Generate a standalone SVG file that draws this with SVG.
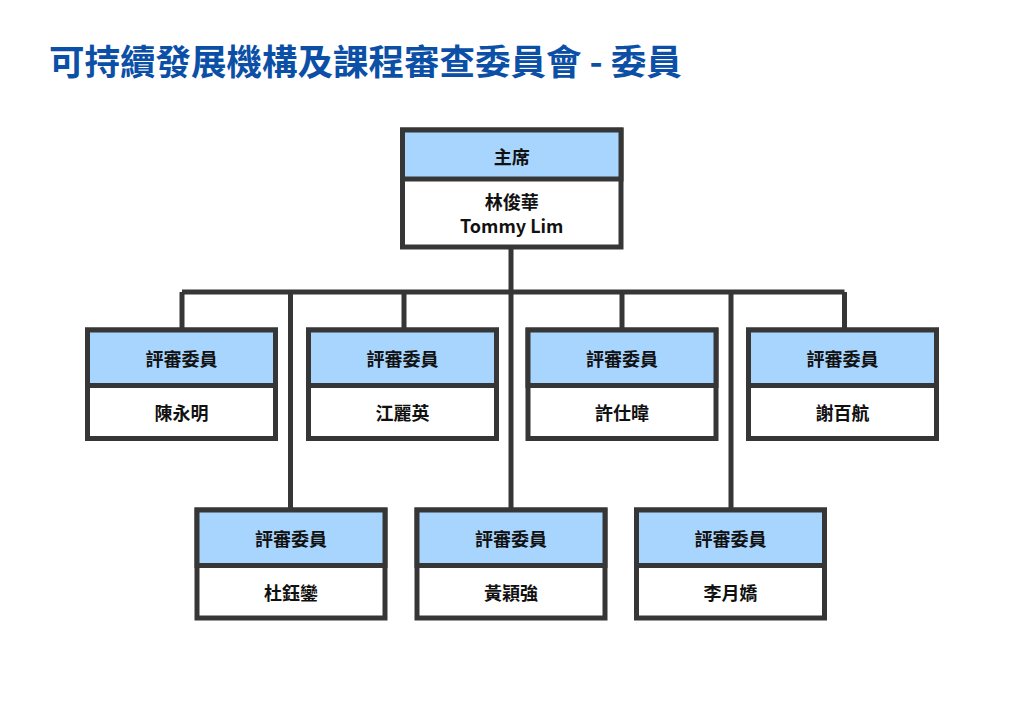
<svg xmlns="http://www.w3.org/2000/svg" width="1024" height="724" viewBox="0 0 1024 724">
<style>
.box{fill:#ffffff;stroke:#363636;stroke-width:5}
.hdr{fill:#a8d5fd;stroke:#363636;stroke-width:5}
.ln{fill:none;stroke:#363636;stroke-width:5}
text{font-family:"Noto Sans CJK TC","Noto Sans",sans-serif;font-weight:bold;fill:#111111;text-anchor:middle;dominant-baseline:central;font-size:18px}
.title{font-size:35.5px;fill:#0b50a6;text-anchor:start;dominant-baseline:alphabetic}
</style>
<rect width="1024" height="724" fill="#ffffff"/>
<text class="title" x="49" y="75">可持續發展機構及課程審查委員會 - 委員</text>
<g id="connectors">
<path class="ln" d="M182 292H844.5M511 247V510M182 292V330M404 292V330M622 292V330M844.5 292V330M290.5 292V510M731 292V510"/>
</g>
<g id="chair">
<rect class="box" x="402.5" y="130" width="218.5" height="117"/>
<rect class="hdr" x="402.5" y="130" width="218.5" height="49"/>
<text x="511.75" y="156">主席</text>
<text x="511.75" y="201" font-size="17.5">林俊華</text>
<text x="511.75" y="225" font-size="17.5">Tommy Lim</text>
</g>
<g id="m1">
<rect class="box" x="87.5" y="330" width="188" height="108.5"/>
<rect class="hdr" x="87.5" y="330" width="188" height="55.5"/>
<text x="181.5" y="358">評審委員</text>
<text x="181.5" y="412">陳永明</text>
</g>
<g id="m2">
<rect class="box" x="308.5" y="330" width="188" height="108.5"/>
<rect class="hdr" x="308.5" y="330" width="188" height="55.5"/>
<text x="402.5" y="358">評審委員</text>
<text x="402.5" y="412">江麗英</text>
</g>
<g id="m3">
<rect class="box" x="528" y="330" width="188" height="108.5"/>
<rect class="hdr" x="528" y="330" width="188" height="55.5"/>
<text x="622" y="358">評審委員</text>
<text x="622" y="412">許仕暐</text>
</g>
<g id="m4">
<rect class="box" x="748.5" y="330" width="188" height="108.5"/>
<rect class="hdr" x="748.5" y="330" width="188" height="55.5"/>
<text x="842.5" y="358">評審委員</text>
<text x="842.5" y="412">謝百航</text>
</g>
<g id="m5">
<rect class="box" x="197" y="510" width="188" height="108"/>
<rect class="hdr" x="197" y="510" width="188" height="55.5"/>
<text x="291" y="538">評審委員</text>
<text x="291" y="591.5">杜鈺鑾</text>
</g>
<g id="m6">
<rect class="box" x="417" y="510" width="188" height="108"/>
<rect class="hdr" x="417" y="510" width="188" height="55.5"/>
<text x="511" y="538">評審委員</text>
<text x="511" y="591.5">黃穎強</text>
</g>
<g id="m7">
<rect class="box" x="636.5" y="510" width="188" height="108"/>
<rect class="hdr" x="636.5" y="510" width="188" height="55.5"/>
<text x="730.5" y="538">評審委員</text>
<text x="730.5" y="591.5">李月嬌</text>
</g>
</svg>
